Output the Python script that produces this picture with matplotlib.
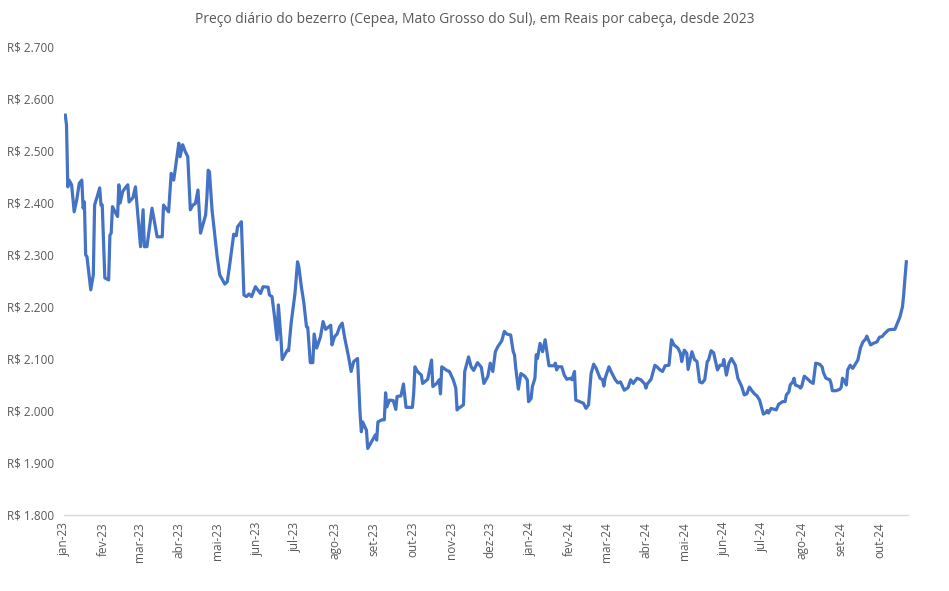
import pandas as pd
import matplotlib
matplotlib.use("Agg")
import matplotlib.pyplot as plt
import matplotlib.dates as mdates
from matplotlib.ticker import FuncFormatter, MultipleLocator

# preço do bezerro (R$/cabeça)
dates = [
    "2023-01-02", "2023-01-03", "2023-01-04", "2023-01-05", "2023-01-07", "2023-01-09",
    "2023-01-11", "2023-01-13", "2023-01-15", "2023-01-16", "2023-01-17", "2023-01-18",
    "2023-01-19", "2023-01-22", "2023-01-24", "2023-01-25", "2023-01-27", "2023-01-29",
    "2023-01-30", "2023-01-31", "2023-02-02", "2023-02-05", "2023-02-06", "2023-02-07",
    "2023-02-08", "2023-02-10", "2023-02-12", "2023-02-13", "2023-02-14", "2023-02-16",
    "2023-02-18", "2023-02-20", "2023-02-21", "2023-02-24", "2023-02-26", "2023-03-02",
    "2023-03-04", "2023-03-05", "2023-03-07", "2023-03-11", "2023-03-15", "2023-03-19",
    "2023-03-20", "2023-03-24", "2023-03-26", "2023-03-28", "2023-04-01", "2023-04-02",
    "2023-04-04", "2023-04-06", "2023-04-08", "2023-04-10", "2023-04-12", "2023-04-14",
    "2023-04-16", "2023-04-18", "2023-04-22", "2023-04-23", "2023-04-24", "2023-04-25",
    "2023-04-27", "2023-05-01", "2023-05-03", "2023-05-07", "2023-05-09", "2023-05-11",
    "2023-05-14", "2023-05-16", "2023-05-17", "2023-05-20", "2023-05-22", "2023-05-24",
    "2023-05-26", "2023-05-28", "2023-05-31", "2023-06-04", "2023-06-06", "2023-06-10",
    "2023-06-11", "2023-06-13", "2023-06-15", "2023-06-17", "2023-06-18", "2023-06-20",
    "2023-06-21", "2023-06-25", "2023-06-26", "2023-06-28", "2023-07-01", "2023-07-03",
    "2023-07-04", "2023-07-06", "2023-07-08", "2023-07-10", "2023-07-11", "2023-07-13",
    "2023-07-15", "2023-07-16", "2023-07-18", "2023-07-21", "2023-07-23", "2023-07-25",
    "2023-07-29", "2023-07-30", "2023-08-01", "2023-08-03", "2023-08-05", "2023-08-07",
    "2023-08-09", "2023-08-12", "2023-08-14", "2023-08-16", "2023-08-19", "2023-08-21",
    "2023-08-22", "2023-08-23", "2023-08-26", "2023-08-27", "2023-08-30", "2023-09-02",
    "2023-09-03", "2023-09-04", "2023-09-07", "2023-09-09", "2023-09-10", "2023-09-11",
    "2023-09-13", "2023-09-16", "2023-09-18", "2023-09-19", "2023-09-22", "2023-09-24",
    "2023-09-26", "2023-10-01", "2023-10-02", "2023-10-03", "2023-10-05", "2023-10-08",
    "2023-10-09", "2023-10-13", "2023-10-16", "2023-10-17", "2023-10-20", "2023-10-22",
    "2023-10-23", "2023-10-24", "2023-10-28", "2023-10-30", "2023-11-02", "2023-11-04",
    "2023-11-05", "2023-11-06", "2023-11-08", "2023-11-10", "2023-11-11", "2023-11-14",
    "2023-11-16", "2023-11-18", "2023-11-21", "2023-11-24", "2023-11-26", "2023-11-29",
    "2023-12-01", "2023-12-03", "2023-12-05", "2023-12-07", "2023-12-10", "2023-12-12",
    "2023-12-14", "2023-12-17", "2023-12-19", "2023-12-20", "2023-12-21", "2023-12-23",
    "2023-12-25", "2023-12-28", "2023-12-30", "2023-12-31", "2024-01-02", "2024-01-03",
    "2024-01-05", "2024-01-06", "2024-01-07", "2024-01-09", "2024-01-11", "2024-01-13",
    "2024-01-15", "2024-01-16", "2024-01-20", "2024-01-21", "2024-01-22", "2024-01-23",
    "2024-01-26", "2024-01-28", "2024-01-30", "2024-02-02", "2024-02-03", "2024-02-05",
    "2024-02-06", "2024-02-09", "2024-02-12", "2024-02-14", "2024-02-16", "2024-02-18",
    "2024-02-20", "2024-02-22", "2024-02-25", "2024-02-27", "2024-02-28", "2024-02-29",
    "2024-03-03", "2024-03-05", "2024-03-08", "2024-03-10", "2024-03-12", "2024-03-15",
    "2024-03-18", "2024-03-20", "2024-03-22", "2024-03-25", "2024-03-28", "2024-03-31",
    "2024-04-01", "2024-04-02", "2024-04-05", "2024-04-08", "2024-04-10", "2024-04-12",
    "2024-04-14", "2024-04-16", "2024-04-19", "2024-04-21", "2024-04-23", "2024-04-26",
    "2024-04-28", "2024-04-29", "2024-05-01", "2024-05-03", "2024-05-04", "2024-05-07",
    "2024-05-09", "2024-05-11", "2024-05-13", "2024-05-15", "2024-05-17", "2024-05-19",
    "2024-05-20", "2024-05-22", "2024-05-24", "2024-05-27", "2024-05-29", "2024-05-31",
    "2024-06-01", "2024-06-03", "2024-06-05", "2024-06-07", "2024-06-10", "2024-06-12",
    "2024-06-15", "2024-06-17", "2024-06-19", "2024-06-21", "2024-06-23", "2024-06-25",
    "2024-06-27", "2024-06-29", "2024-07-02", "2024-07-04", "2024-07-05", "2024-07-06",
    "2024-07-08", "2024-07-11", "2024-07-12", "2024-07-14", "2024-07-17", "2024-07-19",
    "2024-07-20", "2024-07-22", "2024-07-23", "2024-07-25", "2024-07-26", "2024-07-27",
    "2024-07-30", "2024-07-31", "2024-08-01", "2024-08-03", "2024-08-05", "2024-08-08",
    "2024-08-10", "2024-08-12", "2024-08-15", "2024-08-17", "2024-08-18", "2024-08-20",
    "2024-08-23", "2024-08-24", "2024-08-25", "2024-08-28", "2024-08-31", "2024-09-01",
    "2024-09-02", "2024-09-04", "2024-09-05", "2024-09-06", "2024-09-08", "2024-09-10",
    "2024-09-12", "2024-09-14", "2024-09-16", "2024-09-18", "2024-09-20", "2024-09-21",
    "2024-09-22", "2024-09-24", "2024-09-26", "2024-09-29", "2024-10-01", "2024-10-03",
    "2024-10-05", "2024-10-08", "2024-10-11", "2024-10-13", "2024-10-15", "2024-10-17",
    "2024-10-19", "2024-10-20", "2024-10-21", "2024-10-22",
]
prices = [
    2569, 2550, 2431, 2444, 2435, 2383,
    2406, 2438, 2444, 2390, 2402, 2300,
    2297, 2233, 2262, 2396, 2412, 2429,
    2396, 2396, 2256, 2252, 2338, 2342,
    2393, 2383, 2374, 2435, 2400, 2422,
    2429, 2435, 2402, 2410, 2431, 2316,
    2387, 2316, 2316, 2390, 2335, 2335,
    2396, 2383, 2457, 2444, 2515, 2489,
    2512, 2499, 2489, 2387, 2396, 2399,
    2425, 2342, 2377, 2412, 2463, 2460,
    2387, 2297, 2262, 2244, 2249, 2284,
    2340, 2337, 2354, 2364, 2223, 2220,
    2225, 2220, 2239, 2226, 2239, 2238,
    2223, 2220, 2181, 2137, 2204, 2140,
    2099, 2117, 2116, 2169, 2226, 2287,
    2278, 2239, 2207, 2162, 2161, 2093,
    2093, 2148, 2121, 2143, 2172, 2157,
    2165, 2127, 2143, 2148, 2162, 2169,
    2140, 2104, 2076, 2095, 2101, 1995,
    1960, 1979, 1963, 1928, 1941, 1954,
    1944, 1979, 1983, 1983, 2035, 2008,
    2021, 2020, 2003, 2028, 2029, 2052,
    2007, 2007, 2034, 2085, 2076, 2069,
    2053, 2061, 2098, 2047, 2053, 2060,
    2033, 2085, 2078, 2076, 2060, 2044,
    2002, 2005, 2008, 2012, 2076, 2104,
    2085, 2078, 2093, 2084, 2053, 2066,
    2092, 2076, 2114, 2124, 2135, 2153,
    2148, 2146, 2114, 2108, 2082, 2042,
    2072, 2067, 2060, 2018, 2024, 2047,
    2063, 2108, 2101, 2130, 2114, 2137,
    2104, 2087, 2087, 2092, 2079, 2085,
    2085, 2069, 2061, 2063, 2060, 2076,
    2021, 2018, 2015, 2005, 2012, 2072,
    2090, 2082, 2063, 2060, 2048, 2063,
    2085, 2074, 2060, 2054, 2056, 2040,
    2045, 2060, 2053, 2063, 2060, 2052,
    2044, 2052, 2061, 2088, 2084, 2079,
    2076, 2087, 2088, 2137, 2127, 2121,
    2111, 2095, 2117, 2111, 2080, 2114,
    2099, 2095, 2056, 2054, 2060, 2095,
    2098, 2116, 2112, 2079, 2088, 2088,
    2099, 2069, 2092, 2101, 2088, 2063,
    2047, 2031, 2033, 2046, 2039, 2033,
    2029, 2021, 1994, 1997, 2001, 1996,
    2005, 2003, 2002, 2013, 2018, 2018,
    2031, 2037, 2050, 2056, 2063, 2050,
    2047, 2044, 2047, 2067, 2063, 2056,
    2053, 2092, 2090, 2085, 2074, 2063,
    2060, 2053, 2039, 2039, 2042, 2046,
    2063, 2056, 2050, 2079, 2088, 2082,
    2090, 2098, 2121, 2133, 2138, 2144,
    2138, 2127, 2130, 2133, 2142, 2143,
    2149, 2156, 2157, 2157, 2169, 2181,
    2201, 2226, 2258, 2287,
]
month_abbr = ["jan", "fev", "mar", "abr", "mai", "jun",
              "jul", "ago", "set", "out", "nov", "dez"]
title = "Preço diário do bezerro (Cepea, Mato Grosso do Sul), em Reais por cabeça, desde 2023"

plt.rcParams['font.family'] = ['Open Sans', 'DejaVu Sans']

x = pd.to_datetime(dates)

fig = plt.figure(figsize=(9.49, 5.91), dpi=100)
ax = fig.add_axes([0.0674, 0.1286, 0.889, 0.7919])

ax.plot(x, prices, color="#4472C4", linewidth=2.3, solid_joinstyle="round")

ax.set_ylim(1800, 2700)
ax.yaxis.set_major_locator(MultipleLocator(100))
ax.yaxis.set_major_formatter(FuncFormatter(lambda v, p: "R$ " + f"{int(round(v)):,}".replace(",", ".")))

ax.set_xlim(pd.Timestamp("2023-01-01"), x[-1] + pd.Timedelta(days=1))
ax.xaxis.set_major_locator(mdates.MonthLocator())
ax.xaxis.set_major_formatter(FuncFormatter(
    lambda v, p: f"{month_abbr[mdates.num2date(v).month - 1]}-{mdates.num2date(v).year % 100:02d}"))

for s in ["top", "right", "left"]:
    ax.spines[s].set_visible(False)
ax.spines["bottom"].set_color("#D9D9D9")
ax.spines["bottom"].set_linewidth(1.0)

ax.tick_params(axis="both", length=0, colors="#595959", labelsize=8.5)
ax.tick_params(axis="y", pad=7)
ax.tick_params(axis="x", pad=5, labelrotation=90)

fig.text(0.5, 0.967, title, ha="center", va="center", fontsize=10, color="#595959")

fig.savefig("out.png", dpi=100)
